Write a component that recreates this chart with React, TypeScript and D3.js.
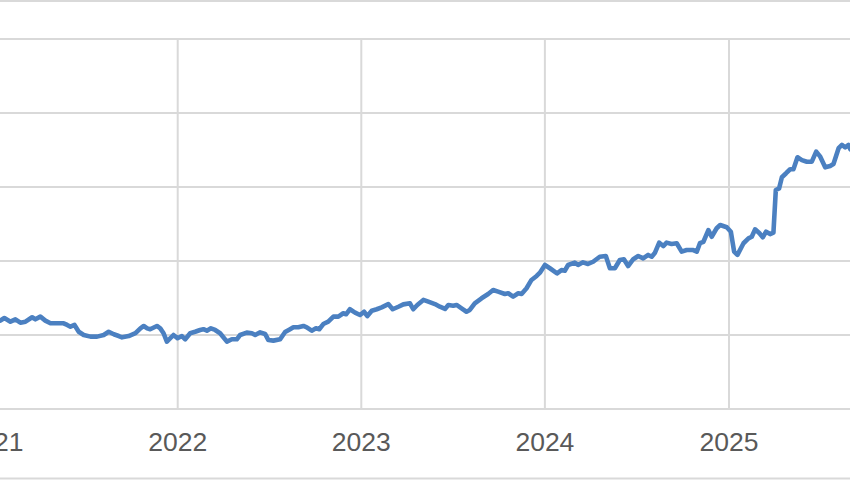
import React from "react";
import * as d3 from "d3";

// Time as decimal years
const times: number[] = [
  2021.007, 2021.034, 2021.056, 2021.089, 2021.116, 2021.143, 2021.171, 2021.207, 2021.225, 2021.252,
  2021.279, 2021.307, 2021.343, 2021.379, 2021.398, 2021.416, 2021.438, 2021.461, 2021.488, 2021.525,
  2021.561, 2021.597, 2021.624, 2021.652, 2021.679, 2021.697, 2021.733, 2021.770, 2021.797, 2021.815,
  2021.834, 2021.850, 2021.887, 2021.905, 2021.923, 2021.941, 2021.977, 2021.999, 2022.023, 2022.041,
  2022.068, 2022.095, 2022.122, 2022.140, 2022.159, 2022.181, 2022.204, 2022.231, 2022.268, 2022.295,
  2022.322, 2022.340, 2022.376, 2022.404, 2022.422, 2022.449, 2022.476, 2022.494, 2022.521, 2022.558,
  2022.585, 2022.612, 2022.630, 2022.657, 2022.685, 2022.703, 2022.730, 2022.753, 2022.771, 2022.793,
  2022.820, 2022.848, 2022.875, 2022.902, 2022.917, 2022.938, 2022.966, 2022.993, 2023.015, 2023.033,
  2023.057, 2023.084, 2023.111, 2023.147, 2023.171, 2023.202, 2023.229, 2023.265, 2023.283, 2023.305,
  2023.338, 2023.365, 2023.401, 2023.428, 2023.456, 2023.474, 2023.501, 2023.519, 2023.546, 2023.573,
  2023.591, 2023.618, 2023.655, 2023.691, 2023.718, 2023.745, 2023.782, 2023.800, 2023.827, 2023.855,
  2023.873, 2023.900, 2023.927, 2023.955, 2023.973, 2024.000, 2024.027, 2024.066, 2024.090, 2024.108,
  2024.126, 2024.162, 2024.180, 2024.207, 2024.234, 2024.262, 2024.298, 2024.331, 2024.353, 2024.380,
  2024.407, 2024.429, 2024.452, 2024.480, 2024.507, 2024.534, 2024.561, 2024.580, 2024.598, 2024.621,
  2024.643, 2024.661, 2024.688, 2024.716, 2024.743, 2024.770, 2024.806, 2024.825, 2024.842, 2024.861,
  2024.888, 2024.906, 2024.933, 2024.952, 2024.988, 2025.010, 2025.028, 2025.046, 2025.079, 2025.106,
  2025.124, 2025.142, 2025.166, 2025.184, 2025.202, 2025.224, 2025.242, 2025.255, 2025.273, 2025.288,
  2025.311, 2025.333, 2025.351, 2025.373, 2025.397, 2025.424, 2025.451, 2025.475, 2025.497, 2025.524,
  2025.551, 2025.569, 2025.597, 2025.615, 2025.633, 2025.651, 2025.661, 2025.688,
];

const values: number[] = [
  59.5, 59.7, 61.5, 59.0, 60.6, 58.3, 59.0, 62.0, 60.6, 62.4,
  59.7, 57.9, 57.9, 57.9, 56.8, 55.6, 56.8, 52.2, 50.0, 48.9,
  48.9, 50.0, 52.2, 50.5, 49.3, 48.4, 49.3, 51.2, 54.5, 56.1,
  54.5, 53.9, 56.1, 54.5, 51.2, 45.5, 50.0, 47.8, 49.3, 47.1,
  51.2, 52.2, 53.4, 53.9, 52.9, 54.5, 53.4, 51.2, 45.5, 47.1,
  47.1, 50.0, 51.6, 51.2, 50.0, 51.8, 50.7, 46.6, 46.2, 47.1,
  52.0, 53.9, 55.2, 55.2, 56.1, 55.2, 52.9, 54.5, 53.9, 57.4,
  59.0, 62.4, 62.4, 64.7, 64.0, 67.4, 65.1, 63.5, 65.7, 62.8,
  66.4, 67.4, 68.7, 70.9, 67.4, 69.1, 70.7, 71.4, 67.4, 70.3,
  73.7, 72.5, 70.9, 69.1, 67.6, 70.3, 69.8, 70.3, 68.0, 65.7,
  66.9, 71.4, 74.8, 77.7, 80.4, 79.3, 77.7, 78.2, 75.9, 78.2,
  77.7, 81.6, 87.2, 89.9, 92.1, 97.3, 95.1, 91.7, 93.9, 93.4,
  97.3, 98.9, 97.3, 99.1, 98.0, 99.5, 102.9, 103.4, 95.1, 95.1,
  100.7, 101.2, 96.6, 101.2, 103.4, 101.8, 104.1, 102.9, 105.6, 112.4,
  110.1, 112.4, 111.5, 112.0, 106.3, 107.4, 107.4, 106.3, 112.0, 113.0,
  120.9, 116.4, 122.1, 124.3, 122.8, 119.8, 106.3, 104.1, 112.0, 115.3,
  116.4, 121.4, 118.7, 116.0, 119.8, 118.2, 119.1, 148.0, 149.1, 156.6,
  159.3, 162.0, 162.0, 170.1, 168.2, 167.1, 167.1, 173.9, 170.5, 163.3,
  164.2, 165.5, 176.2, 178.4, 176.8, 178.4, 175.5, 177.7,
];

const yearTicks: number[] = [2021, 2022, 2023, 2024, 2025];
const valueTicks: number[] = [0, 50, 100, 150, 200, 250];

const toDate = (t: number): Date => {
  const y = Math.floor(t);
  const s = Date.UTC(y, 0, 1);
  const e = Date.UTC(y + 1, 0, 1);
  return new Date(s + (t - y) * (e - s));
};

const W = 850;
const H = 480;

export default function App() {
  const x = d3
    .scaleUtc()
    .domain([new Date(Date.UTC(2022, 0, 1)), new Date(Date.UTC(2025, 0, 1))])
    .range([177.7, 729]);
  const y = d3.scaleLinear().domain([0, 250]).range([409, 39]);

  const data = times.map((t, i) => ({ d: toDate(t), v: values[i] }));
  const line = d3
    .line<{ d: Date; v: number }>()
    .x((p) => x(p.d))
    .y((p) => y(p.v));

  const grid = "#d9d9d9";

  return (
    <>
      <style>{`body{margin:0;}`}</style>
      <svg width={W} height={H} style={{ display: "block", background: "#fff" }}>
        {/* frame lines */}
        <line x1={0} x2={W} y1={1} y2={1} stroke={grid} strokeWidth={2} />
        <line x1={0} x2={W} y1={478.5} y2={478.5} stroke={grid} strokeWidth={2} />
        {/* horizontal gridlines */}
        {valueTicks.map((v) => (
          <line key={"h" + v} x1={0} x2={W} y1={y(v)} y2={y(v)} stroke={grid} strokeWidth={2} />
        ))}
        {/* vertical gridlines */}
        {yearTicks.map((yr) => {
          const xx = x(new Date(Date.UTC(yr, 0, 1)));
          return (
            <line key={"v" + yr} x1={xx} x2={xx} y1={y(250)} y2={y(0)} stroke={grid} strokeWidth={2} />
          );
        })}
        {/* data line */}
        <path
          d={line(data) || ""}
          fill="none"
          stroke="#4b80c1"
          strokeWidth={4.6}
          strokeLinejoin="round"
          strokeLinecap="round"
        />
        {/* year labels */}
        {yearTicks.map((yr) => {
          const xx = x(new Date(Date.UTC(yr, 0, 1)));
          return (
            <text
              key={"t" + yr}
              x={xx}
              y={451}
              textAnchor="middle"
              fontFamily="'Liberation Sans', Arial, sans-serif"
              fontSize={26.5}
              fill="#595959"
            >
              {String(yr)}
            </text>
          );
        })}
      </svg>
    </>
  );
}
